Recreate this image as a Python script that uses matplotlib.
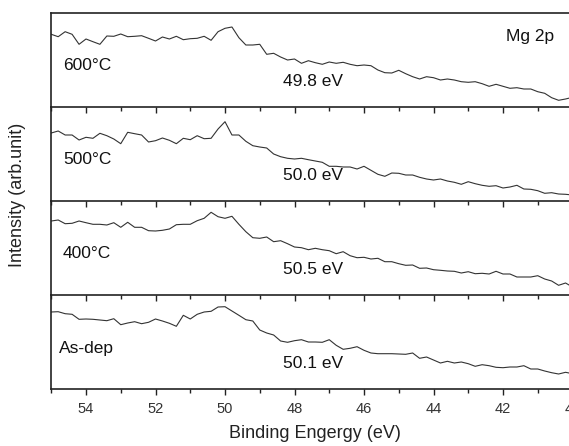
import matplotlib
matplotlib.use("Agg")
import matplotlib.pyplot as plt
import numpy as np
from matplotlib.ticker import MultipleLocator

plt.rcParams['font.family'] = ['Liberation Sans', 'DejaVu Sans']

# binding energy grid, 0.2 eV steps from 55 eV down to 40 eV
energy = np.linspace(55, 40, 76)

# Mg 2p spectra (arb. units), top panel first
mg_600 = [72.7, 70.3, 75.3, 72.7, 62.7, 68.0, 65.3, 62.7, 71.0, 70.7, 73.0, 70.3, 70.7,
          71.3, 68.7, 66.0, 70.0, 68.0, 70.7, 67.3, 68.3, 68.7, 70.7, 66.7, 75.3, 78.7,
          80.0, 69.3, 62.0, 62.0, 62.7, 52.7, 53.7, 50.0, 47.0, 48.0, 43.7, 46.3,
          44.3, 42.7, 45.0, 43.7, 44.7, 42.7, 41.3, 42.0, 41.3, 37.0, 34.3, 34.0, 36.7,
          33.3, 30.3, 28.0, 30.3, 29.3, 27.0, 28.0, 27.0, 25.3, 24.7, 25.3, 23.3, 20.7,
          22.7, 20.7, 18.7, 19.3, 18.0, 18.0, 15.3, 13.7, 9.3, 6.7, 8.0, 9.7]
mg_500 = [68.0, 70.0, 66.0, 66.0, 61.0, 63.7, 62.7, 67.7, 65.3, 62.0, 57.3, 68.7, 67.3,
          66.0, 59.0, 60.3, 63.0, 60.7, 57.3, 62.7, 61.3, 65.3, 62.3, 62.7, 72.0, 79.3,
          66.0, 66.0, 59.7, 55.3, 54.0, 53.0, 47.0, 44.3, 42.7, 42.0, 42.7, 41.3,
          40.0, 38.7, 34.7, 34.7, 34.0, 34.0, 32.0, 34.7, 30.7, 26.7, 24.7, 28.0, 27.7,
          26.0, 26.0, 23.7, 22.0, 21.0, 22.0, 20.0, 18.7, 16.7, 19.3, 17.3, 15.7, 14.7,
          15.3, 13.0, 14.0, 15.7, 12.0, 11.7, 10.3, 7.7, 8.3, 7.0, 6.7, 6.0]
mg_400 = [74.0, 75.0, 71.3, 71.7, 74.0, 72.3, 70.7, 70.7, 70.0, 72.3, 67.7, 72.7, 67.7,
          67.7, 64.3, 64.0, 64.7, 66.0, 70.3, 70.7, 70.7, 74.3, 76.7, 82.7, 78.3, 76.7,
          78.7, 70.7, 63.3, 57.3, 56.7, 58.0, 53.3, 54.3, 51.3, 48.0, 47.3, 45.3,
          46.7, 45.3, 44.3, 41.3, 43.3, 39.3, 37.3, 37.7, 36.0, 36.7, 33.3, 33.3, 31.3,
          29.7, 30.0, 26.7, 27.0, 25.3, 24.7, 24.0, 23.7, 22.0, 23.3, 21.3, 21.7, 21.0,
          23.7, 21.0, 21.0, 18.0, 18.0, 18.0, 19.3, 16.0, 14.0, 9.7, 12.0, 8.0]
mg_asdep = [77.0, 77.3, 75.3, 74.7, 69.7, 70.0, 69.7, 69.0, 68.3, 70.3, 64.3, 66.0, 67.3,
            65.3, 66.7, 70.0, 68.0, 65.7, 62.7, 73.7, 70.0, 74.7, 77.0, 77.7, 82.0, 82.3,
            78.0, 73.7, 69.3, 68.0, 59.0, 56.0, 54.0, 48.0, 46.7, 48.3, 49.3, 47.0,
            47.0, 46.7, 49.3, 43.7, 39.7, 40.7, 42.3, 38.7, 36.0, 35.3, 35.3, 35.3, 35.0,
            34.7, 36.0, 30.7, 32.0, 29.0, 26.0, 27.7, 26.0, 27.0, 25.3, 22.7, 24.3, 23.3,
            21.7, 21.3, 22.0, 22.0, 23.3, 20.0, 20.0, 18.0, 16.3, 15.0, 16.7, 15.3]

spectra = [mg_600, mg_500, mg_400, mg_asdep]
sample_labels = ['600°C', '500°C', '400°C', 'As-dep']
peak_labels = ['49.8 eV', '50.0 eV', '50.5 eV', '50.1 eV']


def main():
    fig = plt.figure(figsize=(5.69, 4.46), dpi=100)

    left = 51.25 / 569
    width = 16 * 34.75 / 569
    h = 94 / 446
    bottom0 = 1 - 389 / 446

    for i, (y, name, peak) in enumerate(zip(spectra, sample_labels, peak_labels)):
        b = bottom0 + (3 - i) * h
        ax = fig.add_axes([left, b, width, h])
        ax.patch.set_visible(False)
        ax.plot(energy, y, color='#333333', lw=0.8)
        ax.set_xlim(55, 39)
        ax.set_ylim(0, 94)
        ax.set_yticks([])
        ax.xaxis.set_major_locator(MultipleLocator(2))
        ax.xaxis.set_minor_locator(MultipleLocator(1))
        ax.tick_params(axis='x', which='major', direction='out', length=4.5,
                       width=1.0, color='#222222', labelsize=10.5,
                       labelcolor='#333333', pad=5)
        ax.tick_params(axis='x', which='minor', direction='out', length=3,
                       width=1.0, color='#222222')
        for s in ['left', 'bottom', 'top']:
            ax.spines[s].set_linewidth(1.2)
            ax.spines[s].set_color('#222222')
        ax.spines['right'].set_visible(False)
        if i > 0:
            ax.spines['top'].set_visible(False)
        if i < 3:
            ax.tick_params(axis='x', labelbottom=False)

        x0 = 54.66 if i < 3 else 54.78
        ax.text(x0, 41, name, fontsize=12.5, va='center', ha='left', color='#111111')
        ax.text(48.33, 25, peak, fontsize=12.5, va='center', ha='left', color='#111111')
        if i == 0:
            ax.text(41.91, 71, 'Mg 2p', fontsize=12.5, va='center', ha='left',
                    color='#111111')

    fig.text(18 / 569, 1 - 195 / 446, 'Intensity (arb.unit)', rotation=90,
             fontsize=13, va='center', ha='center', color='#222222')
    fig.text(315 / 569, 1 - 433 / 446, 'Binding Engergy (eV)', fontsize=13,
             va='center', ha='center', color='#222222')

    fig.savefig('out.png', dpi=100)


if __name__ == "__main__":
    main()
